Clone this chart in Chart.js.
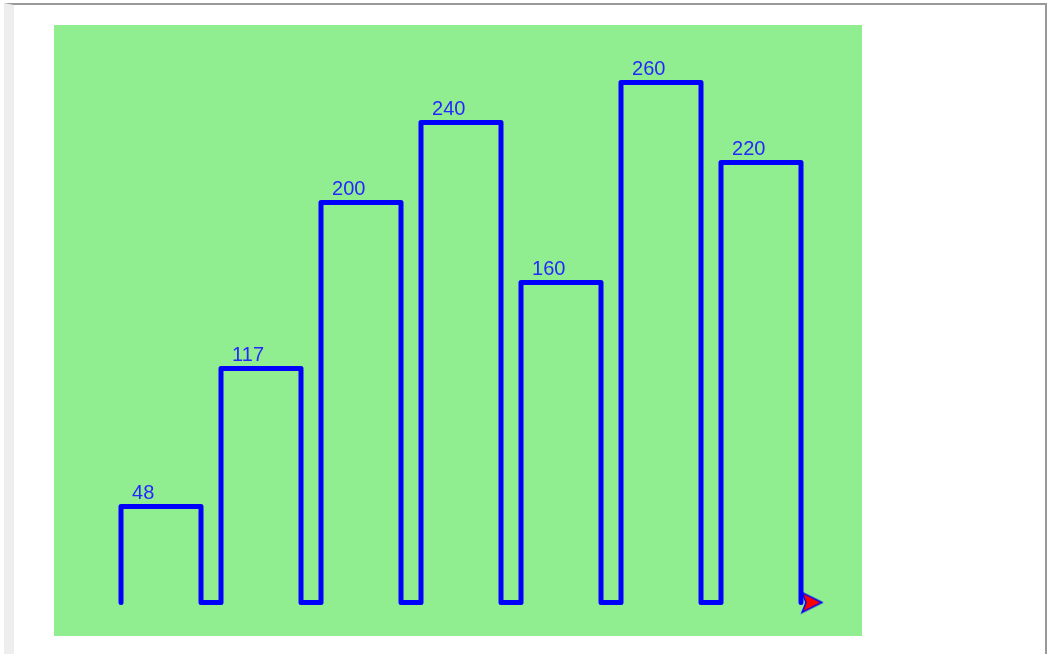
<!DOCTYPE html>
<html>
<head>
<meta charset="utf-8">
<script src="https://cdn.jsdelivr.net/npm/chart.js@4"></script>
<style>
  html, body { margin: 0; padding: 0; background: #fff; overflow: hidden; }
  #frame {
    position: absolute; left: 4px; top: 3px; width: 1031px; height: 700px;
    border-top: 2px solid #999; border-right: 2px solid #999; border-left: 10px solid #eee;
  }
  #chart-box { position: absolute; left: 40px; top: 20px; width: 808px; height: 611px; background: #90ee90; }
</style>
</head>
<body>
<div id="frame">
  <div id="chart-box"><canvas id="bars" width="808" height="611"></canvas></div>
</div>
<script>
// bar heights, left to right
const values = [48, 117, 200, 240, 160, 260, 220];
// text written above each bar (turtle style, two leading spaces)
const barText = values.map(v => '  ' + v);

const BAR_W = 40;
const GAP = 10;

document.addEventListener('DOMContentLoaded', () => {
  const ctx = document.getElementById('bars').getContext('2d');

  // the pen path: up, across, down, then over to the next bar
  const path = [];
  values.forEach((v, i) => {
    const left = i * (BAR_W + GAP);
    path.push({x: left, y: 0}, {x: left, y: v}, {x: left + BAR_W, y: v}, {x: left + BAR_W, y: 0});
  });

  // turtle arrow, centred on the last point
  const arrow = document.createElement('canvas');
  arrow.width = 48;
  arrow.height = 24;
  const a = arrow.getContext('2d');
  a.beginPath();
  a.moveTo(24 + 21, 12);
  a.lineTo(24 + 1, 12 - 10);
  a.lineTo(24 + 5, 12);
  a.lineTo(24 + 1, 12 + 10);
  a.closePath();
  a.fillStyle = 'red';
  a.fill();
  a.strokeStyle = 'blue';
  a.lineWidth = 1.5;
  a.stroke();

  const last = path.length - 1;

  const barLabels = {
    id: 'barLabels',
    afterDatasetsDraw(chart) {
      const {ctx, scales: {x, y}} = chart;
      ctx.save();
      ctx.font = '20px Arial, "Liberation Sans"';
      ctx.fillStyle = '#2626ff';
      ctx.textBaseline = 'alphabetic';
      values.forEach((v, i) => {
        ctx.fillText(barText[i], x.getPixelForValue(i * (BAR_W + GAP)), y.getPixelForValue(v) - 8);
      });
      ctx.restore();
    }
  };

  new Chart(ctx, {
    type: 'scatter',
    data: {
      datasets: [{
        data: path,
        showLine: true,
        borderColor: 'blue',
        borderWidth: 5,
        borderJoinStyle: 'round',
        borderCapStyle: 'round',
        tension: 0,
        pointRadius: c => c.dataIndex === last ? 10 : 0,
        pointStyle: c => c.dataIndex === last ? arrow : 'circle',
        pointHoverRadius: 0
      }]
    },
    options: {
      responsive: false,
      devicePixelRatio: 1,
      animation: false,
      events: [],
      layout: { padding: 0, autoPadding: false },
      plugins: { legend: { display: false }, tooltip: { enabled: false } },
      scales: {
        x: { type: 'linear', min: -33.5, max: 370.5, display: false },
        y: { type: 'linear', min: -16.75, max: 288.75, display: false }
      }
    },
    plugins: [barLabels]
  });
});
</script>
</body>
</html>
